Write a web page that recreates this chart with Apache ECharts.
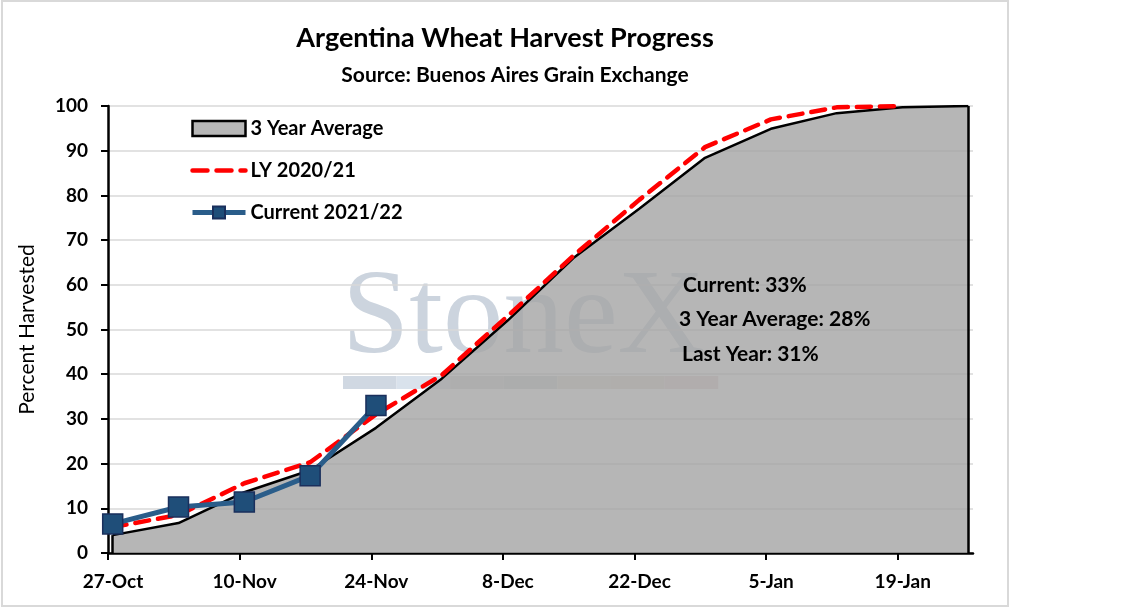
<!DOCTYPE html>
<html>
<head>
<meta charset="utf-8">
<script src="https://cdn.jsdelivr.net/npm/echarts@6/dist/echarts.min.js"></script>
<style>
  html, body { margin: 0; padding: 0; background: #fff; }
  #chart { width: 1137px; height: 608px; }
</style>
</head>
<body>
<div id="chart"></div>
<script>
// weekly report dates (Wednesdays), first one is 27-Oct
const weeks = ['27-Oct', '3-Nov', '10-Nov', '17-Nov', '24-Nov', '1-Dec', '8-Dec',
  '15-Dec', '22-Dec', '29-Dec', '5-Jan', '12-Jan', '19-Jan', '26-Jan'];
const tickLabels = ['27-Oct', '10-Nov', '24-Nov', '8-Dec', '22-Dec', '5-Jan', '19-Jan'];

const avg3yr = [4, 6.7, 13.6, 18.5, 28, 39, 52, 66, 77, 88.4, 94.9, 98.4, 99.7, 100];
const lastYear = [5.8, 8.5, 15.6, 20.3, 31, 39.8, 53, 66.5, 79, 90.8, 97, 99.7, 100];
const current = [6.5, 10.3, 11.4, 17.3, 33];

const fontFamily = 'Lato';
const DAYS_PER_WEEK = 7;

// Excel date axis: a point sits in the middle of its day
function toPoints(values) {
  return values.map((v, i) => [i * DAYS_PER_WEEK + 0.5, v]);
}

const chart = echarts.init(document.getElementById('chart'));

const avgPts = toPoints(avg3yr);
const firstAvg = avgPts[0];
const lastAvg = avgPts[avgPts.length - 1];
const tickValues = tickLabels.map((_, i) => i * 14);

const watermarkColors = ['#d0d8e2', '#d9e2ec', '#d6d6d6', '#cdd2d2', '#e2ddd0', '#e2d6cb', '#e4cfcf'];

const noteStyle = { font: 'bold 21px ' + fontFamily, fill: '#000' };

const option = {
  backgroundColor: '#fff',
  animation: false,
  title: [
    {
      text: 'Argentina Wheat Harvest Progress',
      left: 500, top: 20, textAlign: 'center',
      textStyle: { fontFamily, fontWeight: 'bold', fontSize: 27, color: '#000' },
    },
    {
      text: 'Source: Buenos Aires Grain Exchange',
      left: 510, top: 60, textAlign: 'center',
      textStyle: { fontFamily, fontWeight: 'bold', fontSize: 21, color: '#000' },
    },
  ],
  graphic: [
    {
      type: 'rect', z: -10, silent: true,
      shape: { x: 2, y: 1, width: 1006, height: 605 },
      style: { fill: null, stroke: '#d9d9d9', lineWidth: 2 },
    },
    {
      type: 'text', z: 0, silent: true, left: 342, top: 260,
      style: { text: 'StoneX', font: '121px "Liberation Serif"', fill: '#ccd4de' },
    },
    ...watermarkColors.map((c, i) => ({
      type: 'rect', z: 0, silent: true,
      shape: { x: 343 + i * 53.6, y: 376, width: 53.6, height: 13 },
      style: { fill: c },
    })),
    {
      type: 'text', z: 20, left: 683, top: 275,
      style: { text: 'Current: ' + current[current.length - 1] + '%', ...noteStyle },
    },
    {
      type: 'text', z: 20, left: 679, top: 309,
      style: { text: '3 Year Average: ' + avg3yr[current.length - 1] + '%', ...noteStyle },
    },
    {
      type: 'text', z: 20, left: 682, top: 344,
      style: { text: 'Last Year: ' + lastYear[current.length - 1] + '%', ...noteStyle },
    },
  ],
  legend: {
    orient: 'vertical',
    left: 185,
    top: 113,
    itemWidth: 53,
    itemHeight: 15,
    itemGap: 21,
    textStyle: { fontFamily, fontWeight: 'bold', fontSize: 20, color: '#000', lineHeight: 21 },
    data: [
      { name: '3 Year Average', icon: 'rect', itemStyle: { color: '#b7b7b7', borderColor: '#000', borderWidth: 2.5 } },
      { name: 'LY 2020/21', itemStyle: { opacity: 0 }, lineStyle: { width: 4.5, type: [15, 9] } },
      { name: 'Current 2021/22', lineStyle: { width: 5 } },
    ],
  },
  grid: { left: 108, right: 164, top: 106, bottom: 55 },
  xAxis: {
    type: 'value',
    min: 0,
    max: 92,
    interval: 14,
    splitLine: { show: false },
    axisLine: { lineStyle: { color: '#000', width: 2.5 } },
    axisTick: { customValues: tickValues, length: 7, lineStyle: { color: '#000', width: 2 } },
    axisLabel: {
      customValues: tickValues,
      margin: 19,
      padding: [0, 0, 0, 10],
      color: '#000',
      fontFamily, fontWeight: 'bold', fontSize: 19,
      formatter: v => tickLabels[Math.round(v / 14)] || '',
    },
  },
  yAxis: {
    type: 'value',
    min: 0,
    max: 100,
    interval: 10,
    name: 'Percent Harvested',
    nameLocation: 'middle',
    nameGap: 70,
    nameTextStyle: { fontFamily, fontSize: 21, color: '#000' },
    axisLine: { show: true, lineStyle: { color: '#000', width: 2.5 } },
    axisTick: { show: true, length: 7, lineStyle: { color: '#000', width: 2 } },
    splitLine: { lineStyle: { color: '#d9d9d9', width: 1.5 } },
    axisLabel: { margin: 20, color: '#000', fontFamily, fontWeight: 'bold', fontSize: 19 },
  },
  series: [
    {
      name: '3 Year Average',
      type: 'line',
      z: 2,
      data: avgPts,
      symbol: 'none',
      color: '#000',
      lineStyle: { color: '#000', width: 2.5 },
      areaStyle: { color: '#a4a4a4', opacity: 0.8 },
      markLine: {
        silent: true,
        symbol: 'none',
        label: { show: false },
        lineStyle: { color: '#000', width: 2.5, type: 'solid' },
        data: [
          [{ coord: [firstAvg[0], 0] }, { coord: firstAvg }],
          [{ coord: [lastAvg[0], 0] }, { coord: lastAvg }],
        ],
      },
    },
    {
      name: 'LY 2020/21',
      type: 'line',
      z: 3,
      data: toPoints(lastYear),
      symbol: 'none',
      color: '#ff0000',
      lineStyle: { color: '#ff0000', width: 4.5, type: [14, 9], cap: 'round' },
    },
    {
      name: 'Current 2021/22',
      type: 'line',
      z: 4,
      data: toPoints(current),
      symbol: 'rect',
      symbolSize: 20,
      color: '#1f4e79',
      lineStyle: { color: '#2a5d8a', width: 5 },
      itemStyle: { color: '#1f4e79', borderColor: '#1a2f5c', borderWidth: 1.5 },
    },
  ],
};

chart.setOption(option);
</script>
</body>
</html>
